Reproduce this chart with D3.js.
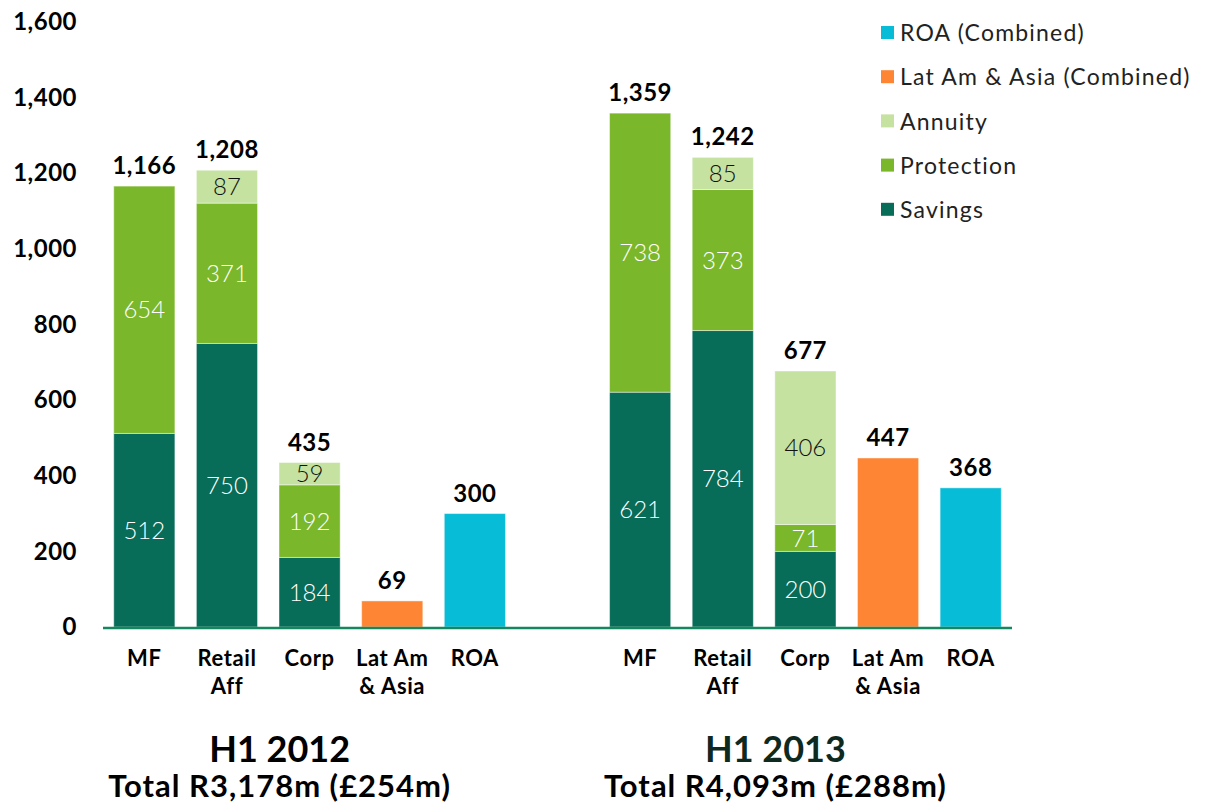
<!DOCTYPE html>
<html>
<head>
<meta charset="utf-8">
<script src="https://cdn.jsdelivr.net/npm/d3@7"></script>
<style>
  body { margin: 0; background: #fff; }
  svg text { font-family: Lato, "Open Sans", sans-serif; }
</style>
</head>
<body>
<svg id="chart" width="1208" height="805"></svg>
<script>
/* Data */

var PERIODS      = ["2012", "2013"];
var PERIOD_TITLE = ["H1 2012", "H1 2013"];
var PERIOD_TOTAL = ["Total R3,178m (£254m)", "Total R4,093m (£288m)"];
var CATEGORIES   = ["MF", "Retail Aff", "Corp", "Lat Am & Asia", "ROA"];
var CAT_LINES    = [["MF"], ["Retail", "Aff"], ["Corp"], ["Lat Am", "& Asia"], ["ROA"]];

var SAVINGS    = {"2012": [512, 750, 184, 0, 0], "2013": [621, 784, 200, 0, 0]};
var PROTECTION = {"2012": [654, 371, 192, 0, 0], "2013": [738, 373, 71, 0, 0]};
var ANNUITY    = {"2012": [0, 87, 59, 0, 0],     "2013": [0, 85, 406, 0, 0]};
var LATAM      = {"2012": [0, 0, 0, 69, 0],      "2013": [0, 0, 0, 447, 0]};
var ROA        = {"2012": [0, 0, 0, 0, 300],     "2013": [0, 0, 0, 0, 368]};

var Y_TICKS = [0, 200, 400, 600, 800, 1000, 1200, 1400, 1600];

var SERIES = ["Savings", "Protection", "Annuity", "LatAm", "ROA"];
var SERIES_DATA = {Savings: SAVINGS, Protection: PROTECTION, Annuity: ANNUITY, LatAm: LATAM, ROA: ROA};
var LEGEND_LABELS = ["ROA (Combined)", "Lat Am & Asia (Combined)", "Annuity", "Protection", "Savings"];
var LEGEND_KEYS   = ["ROA", "LatAm", "Annuity", "Protection", "Savings"];

/* Styles / measures */

var COLORS = {Savings: "#076c58", Protection: "#7ab72a", Annuity: "#c5e2a0", LatAm: "#fd8533", ROA: "#06bcd6"};
var INSIDE_TEXT = {Savings: "#fff", Protection: "#fff", Annuity: "#111"};

var PLOT = {left: 103, right: 1012, top: 22, bottom: 627};

/* Build rows */

var rows = [];
PERIODS.forEach(function(p, pi) {
	if (pi > 0) rows.push({key: "gap", gap: true});
	CATEGORIES.forEach(function(c, ci) {
		var r = {key: p + "|" + c, period: p, ci: ci};
		SERIES.forEach(function(s) { r[s] = SERIES_DATA[s][p][ci]; });
		r.total = d3.sum(SERIES, function(s) { return r[s]; });
		rows.push(r);
	});
});
var barRows = rows.filter(function(r) { return !r.gap; });

var svg = d3.select("#chart");

var x = d3.scaleBand()
	.domain(rows.map(function(r) { return r.key; }))
	.range([PLOT.left, PLOT.right])
	.paddingInner(0.26)
	.paddingOuter(0.13);

var y = d3.scaleLinear()
	.domain([0, 1600])
	.range([PLOT.bottom, PLOT.top]);

var stack = d3.stack().keys(SERIES)(barRows);

/* Y axis labels */

var yAxis = svg.append("g")
	.attr("transform", "translate(" + PLOT.left + ",0)")
	.call(d3.axisLeft(y).tickValues(Y_TICKS).tickSize(0).tickPadding(26).tickFormat(d3.format(",")));
yAxis.select(".domain").remove();
yAxis.selectAll("text")
	.attr("font-family", "Lato, sans-serif")
	.attr("font-size", 24)
	.attr("font-weight", "bold")
	.attr("letter-spacing", 0.5)
	.attr("fill", "#000");

/* Bars */

var layers = svg.append("g").selectAll("g")
	.data(stack)
	.enter().append("g")
	.attr("fill", function(d) { return COLORS[d.key]; });

layers.selectAll("rect")
	.data(function(d) { return d.filter(function(s) { return s[1] > s[0]; }); })
	.enter().append("rect")
	.attr("x", function(d) { return x(d.data.key); })
	.attr("width", x.bandwidth())
	.attr("y", function(d) { return y(d[1]); })
	.attr("height", function(d) { return y(d[0]) - y(d[1]); })
	.attr("stroke", "rgba(255,255,255,0.45)")
	.attr("stroke-width", 1);

/* Inside segment labels */

layers.filter(function(d) { return INSIDE_TEXT[d.key]; })
	.selectAll("text")
	.data(function(d) {
		var key = d.key;
		return d.filter(function(s) { return s[1] > s[0]; }).map(function(s) { s.series = key; return s; });
	})
	.enter().append("text")
	.attr("x", function(d) { return x(d.data.key) + x.bandwidth() / 2; })
	.attr("y", function(d) { return (y(d[0]) + y(d[1])) / 2; })
	.attr("dy", "0.36em")
	.attr("text-anchor", "middle")
	.attr("font-size", 24)
	.attr("font-weight", 300)
	.attr("fill", function(d) { return INSIDE_TEXT[d.series]; })
	.text(function(d) { return d[1] - d[0]; });

/* Totals */

svg.append("g").selectAll("text")
	.data(barRows)
	.enter().append("text")
	.attr("x", function(d) { return x(d.key) + x.bandwidth() / 2; })
	.attr("y", function(d) { return y(d.total) - 12; })
	.attr("text-anchor", "middle")
	.attr("font-size", 24)
	.attr("font-weight", "bold")
	.attr("letter-spacing", 0.5)
	.attr("fill", "#000")
	.text(function(d) { return d3.format(",")(d.total); });

/* Baseline */

svg.append("line")
	.attr("x1", PLOT.left).attr("x2", PLOT.right)
	.attr("y1", y(0) + 1).attr("y2", y(0) + 1)
	.attr("stroke", "#15875f")
	.attr("stroke-width", 2.5);

/* Category labels */

var cat = svg.append("g").selectAll("text")
	.data(barRows)
	.enter().append("text")
	.attr("text-anchor", "middle")
	.attr("font-size", 22)
	.attr("font-weight", "bold")
	.attr("letter-spacing", 0.6)
	.attr("fill", "#000");
cat.selectAll("tspan")
	.data(function(d) { return CAT_LINES[d.ci].map(function(t) { return {t: t, key: d.key}; }); })
	.enter().append("tspan")
	.attr("x", function(d) { return x(d.key) + x.bandwidth() / 2; })
	.attr("y", function(d, i) { return 666 + i * 28; })
	.text(function(d) { return d.t; });

/* Period titles */

PERIODS.forEach(function(p, pi) {
	var first = x(p + "|" + CATEGORIES[0]);
	var last = x(p + "|" + CATEGORIES[CATEGORIES.length - 1]) + x.bandwidth();
	var cx = (first + last) / 2 - 30;
	svg.append("text")
		.attr("x", cx).attr("y", 762)
		.attr("text-anchor", "middle")
		.attr("font-size", 36)
		.attr("font-weight", "bold")
		.attr("fill", pi === 0 ? "#000" : "#0e2a20")
		.text(PERIOD_TITLE[pi]);
	svg.append("text")
		.attr("x", cx).attr("y", 797)
		.attr("text-anchor", "middle")
		.attr("font-size", 31)
		.attr("font-weight", "bold")
		.attr("letter-spacing", 1)
		.attr("fill", "#000")
		.text(PERIOD_TOTAL[pi]);
});

/* Legend */

var legend = svg.append("g").attr("transform", "translate(881,33)");
var item = legend.selectAll("g")
	.data(LEGEND_KEYS)
	.enter().append("g")
	.attr("transform", function(d, i) { return "translate(0," + i * 44.2 + ")"; });
item.append("rect")
	.attr("y", -7).attr("width", 13).attr("height", 13)
	.attr("fill", function(d) { return COLORS[d]; });
item.append("text")
	.attr("x", 19)
	.attr("dy", "0.36em")
	.attr("font-size", 23)
	.attr("letter-spacing", 1.2)
	.attr("fill", "#222")
	.text(function(d, i) { return LEGEND_LABELS[i]; });
</script>
</body>
</html>
